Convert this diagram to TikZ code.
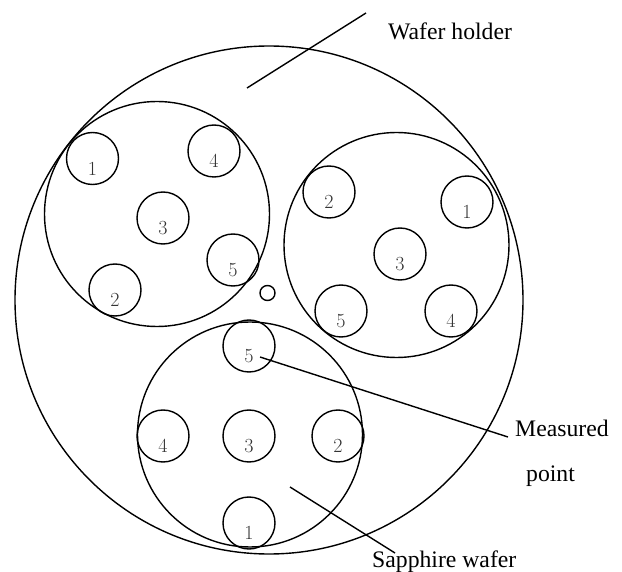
\documentclass[tikz,border=0pt]{standalone}
\usepackage{fontspec}
\usepackage{tikz}
\usetikzlibrary{positioning}
\newfontfamily\tagrm{Liberation Serif}
\tikzset{
  holder/.style={draw, circle, line width=1.4pt, minimum size=508pt, inner sep=0pt},
  wafer/.style={draw, circle, line width=1.4pt, minimum size=225pt, inner sep=0pt},
  mpt/.style={draw, circle, line width=1.4pt, minimum size=52pt, inner sep=0pt},
  hole/.style={draw, circle, line width=1.4pt, minimum size=15pt, inner sep=0pt},
  num/.style={font=\fontsize{20pt}{24pt}\selectfont, text=black!80, inner sep=0pt, yshift=-10pt},
  tag/.style={font=\tagrm\fontsize{23.7pt}{28pt}\selectfont, inner sep=0pt, anchor=base west},
  leader/.style={line width=1.4pt},
}

\begin{document}
\begin{tikzpicture}[x=1pt, y=-1pt]
  \useasboundingbox (0,0) rectangle (622,572);
  % holder and the three wafers
  \node[holder] (holder) at (269,300) {};
  \node[wafer] (wleft) at (157,214) {};
  \node[wafer] (wright) at (396.5,245) {};
  \node[wafer] (wbottom) at (250,434.5) {};
  \node[hole] (hole) at (267.5,293) {};
  % measured points
  \foreach \n/\x/\y in {1/92.5/158.5, 4/214/151, 3/163/218, 5/233/260, 2/115/290}
    \node[mpt, label={[num]center:\n}] (l\n) at (\x,\y) {};
  \foreach \n/\x/\y in {2/329/192, 1/467/202, 3/400/254, 5/341/311, 4/451/311}
    \node[mpt, label={[num]center:\n}] (r\n) at (\x,\y) {};
  \foreach \n/\x/\y in {5/249/346, 4/163/436, 3/249/436, 2/338/436, 1/249/523}
    \node[mpt, label={[num]center:\n}] (b\n) at (\x,\y) {};
  % captions
  \node[tag] (holdtxt) at (388,40) {Wafer holder};
  \node[tag] (meastxt) at (515,436) {Measured};
  \node[tag] (pointtxt) at (526,481) {point};
  \node[tag] (saphtxt) at (372,567) {Sapphire wafer};
  % leader lines
  \coordinate (hold-in) at (247,88);
  \coordinate (hold-out) at (366,13);
  \coordinate (meas-in) at (260,357);
  \coordinate (meas-out) at (508,437);
  \coordinate (saph-in) at (290,487);
  \coordinate (saph-out) at (395,553);
  \draw[leader] (hold-in) -- (hold-out);
  \draw[leader] (meas-in) -- (meas-out);
  \draw[leader] (saph-in) -- (saph-out);
\end{tikzpicture}
\end{document}
